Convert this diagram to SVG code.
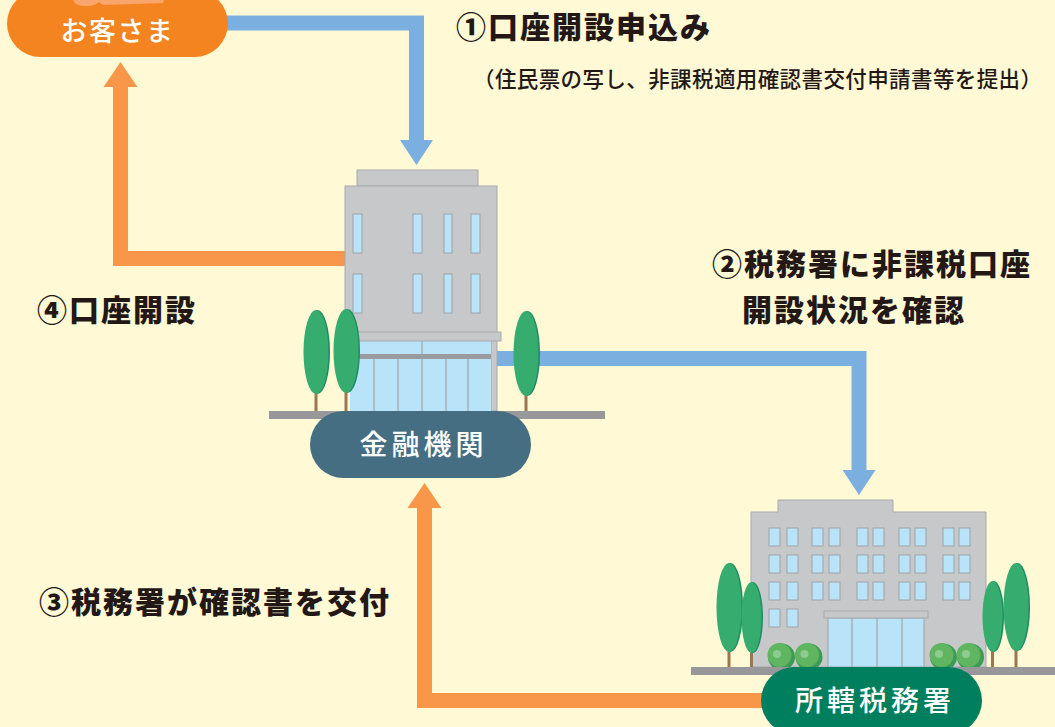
<svg xmlns="http://www.w3.org/2000/svg" width="1055" height="727" viewBox="0 0 1055 727">
  <style>
    .bg { fill: #FFF9D6; }
    .link-blue { fill: none; stroke: #7BAFDF; stroke-width: 15; }
    .link-orange { fill: none; stroke: #F8964A; stroke-width: 15; }
    .label { font-family: "Noto Sans CJK JP", "Noto Sans", sans-serif; font-weight: 900; font-size: 30px; letter-spacing: 2px; fill: #231815; }
    .note { font-family: "Noto Sans CJK JP", "Noto Sans", sans-serif; font-weight: 500; font-size: 21.5px; letter-spacing: 0.4px; fill: #231815; }
    .pill-text { font-family: "Noto Sans CJK JP", "Noto Sans", sans-serif; font-weight: 500; fill: #FFFFFF; text-anchor: middle; }
    .wall { fill: #C7C8CA; stroke: #A7A9AC; stroke-width: 1; }
    .win { fill: #B8E3F8; stroke: #9EA3A8; stroke-width: 1; }
    .glass { fill: #B8E3F8; }
    .mullion { stroke: #9EA3A8; stroke-width: 1.2; }
    .ground { fill: #98989B; }
    .trunk { stroke: #9C7551; stroke-width: 3; }
    .leaf-dark { fill: #1E8C64; }
    .leaf { fill: #37AC6F; }
    .bush-dark { fill: #3C9B54; }
    .bush { fill: #5FB560; }
    .bush-hi { fill: #8FCB8F; }
  </style>
  <defs>
    <marker id="head-blue" markerUnits="userSpaceOnUse" markerWidth="25" markerHeight="33" refX="0" refY="16.5" orient="auto">
      <path d="M0,0 L25,16.5 L0,33 Z" fill="#7BAFDF"/>
    </marker>
    <marker id="head-orange" markerUnits="userSpaceOnUse" markerWidth="25" markerHeight="34" refX="0" refY="17" orient="auto">
      <path d="M0,0 L25,17 L0,34 Z" fill="#F8964A"/>
    </marker>
  </defs>

  <rect class="bg" x="0" y="0" width="1055" height="727"/>

  <!-- flow arrows -->
  <g id="connectors">
    <path id="link-apply" class="link-blue" d="M225,23 H416.5 V140" marker-end="url(#head-blue)"/>
    <path id="link-inquiry" class="link-blue" d="M495,358.5 H859 V470" marker-end="url(#head-blue)"/>
    <path id="link-certificate" class="link-orange" d="M770,700.5 H424.5 V508" marker-end="url(#head-orange)"/>
    <path id="link-open" class="link-orange" d="M348,258.5 H120.5 V87" marker-end="url(#head-orange)"/>
  </g>

  <!-- step captions -->
  <g id="labels">
    <text class="label" x="456" y="38">①口座開設申込み</text>
    <text class="note" x="473" y="87">（住民票の写し、非課税適用確認書交付申請書等を提出）</text>
    <text class="label" x="712" y="275">②税務署に非課税口座</text>
    <text class="label" x="742" y="321">開設状況を確認</text>
    <text class="label" x="37" y="321">④口座開設</text>
    <text class="label" x="39" y="613">③税務署が確認書を交付</text>
  </g>

  <!-- customer -->
  <g id="customer">
    <rect x="7" y="-10" width="221" height="67" rx="33.5" fill="#F4841F"/>
    <path d="M73,0 Q75,6 86,6 Q95,6 99,2 L103,5 L163,3 L164,0 Z" fill="#F9A66C"/>
    <text class="pill-text" x="117.5" y="41" font-size="27" letter-spacing="1.5">お客さま</text>
  </g>

  <!-- financial institution -->
  <g id="bank">
    <rect class="wall" x="357" y="170" width="121" height="16"/>
    <rect class="wall" x="345" y="186" width="152" height="147"/>
    <g class="win">
      <rect x="353" y="214" width="9" height="39"/>
      <rect x="413" y="214" width="9" height="39"/>
      <rect x="444" y="214" width="8" height="39"/>
      <rect x="471" y="214" width="9" height="39"/>
      <rect x="353" y="274" width="9" height="39"/>
      <rect x="413" y="274" width="9" height="39"/>
      <rect x="444" y="274" width="8" height="39"/>
      <rect x="471" y="274" width="9" height="39"/>
    </g>
    <rect class="wall" x="491" y="333" width="6" height="78"/>
    <rect class="glass" x="350" y="341" width="141" height="70"/>
    <rect x="350" y="354" width="141" height="5" fill="#9A9B9F"/>
    <g class="mullion">
      <line x1="422" y1="341" x2="422" y2="411"/>
      <line x1="374" y1="359" x2="374" y2="411"/>
      <line x1="398" y1="359" x2="398" y2="411"/>
      <line x1="446" y1="359" x2="446" y2="411"/>
      <line x1="468" y1="359" x2="468" y2="411"/>
    </g>
    <rect class="wall" x="350" y="332" width="151" height="9"/>
    <line class="trunk" x1="316" y1="390" x2="316" y2="411"/>
    <line class="trunk" x1="346" y1="390" x2="346" y2="411"/>
    <line class="trunk" x1="526" y1="392" x2="526" y2="411"/>
    <ellipse class="leaf-dark" cx="317.5" cy="352" rx="12.5" ry="42"/>
    <ellipse class="leaf" cx="316" cy="352" rx="12.5" ry="42"/>
    <ellipse class="leaf-dark" cx="347.5" cy="351" rx="12.5" ry="42"/>
    <ellipse class="leaf" cx="346" cy="351" rx="12.5" ry="42"/>
    <ellipse class="leaf-dark" cx="527.5" cy="353.5" rx="12.5" ry="42.5"/>
    <ellipse class="leaf" cx="526" cy="353.5" rx="12.5" ry="42.5"/>
    <rect class="ground" x="269" y="411" width="336" height="8"/>
    <rect x="310" y="411" width="221" height="67" rx="33.5" fill="#466E82"/>
    <text class="pill-text" x="423.5" y="455" font-size="28" letter-spacing="4">金融機関</text>
  </g>

  <!-- district tax office -->
  <g id="tax-office">
    <path class="wall" d="M751,667 V512 H778 V500 H893 V512 H986 V667 Z"/>
    <g class="win">
      <rect x="769" y="528" width="11" height="18"/><rect x="787" y="528" width="11" height="18"/>
      <rect x="812" y="528" width="11" height="18"/><rect x="829" y="528" width="11" height="18"/>
      <rect x="857" y="528" width="11" height="18"/><rect x="873" y="528" width="11" height="18"/>
      <rect x="899" y="528" width="11" height="18"/><rect x="915" y="528" width="11" height="18"/>
      <rect x="943" y="528" width="11" height="18"/><rect x="959" y="528" width="11" height="18"/>
      <rect x="769" y="555" width="11" height="18"/><rect x="787" y="555" width="11" height="18"/>
      <rect x="812" y="555" width="11" height="18"/><rect x="829" y="555" width="11" height="18"/>
      <rect x="857" y="555" width="11" height="18"/><rect x="873" y="555" width="11" height="18"/>
      <rect x="899" y="555" width="11" height="18"/><rect x="915" y="555" width="11" height="18"/>
      <rect x="943" y="555" width="11" height="18"/><rect x="959" y="555" width="11" height="18"/>
      <rect x="769" y="582" width="11" height="18"/><rect x="787" y="582" width="11" height="18"/>
      <rect x="812" y="582" width="11" height="18"/><rect x="829" y="582" width="11" height="18"/>
      <rect x="857" y="582" width="11" height="18"/><rect x="873" y="582" width="11" height="18"/>
      <rect x="899" y="582" width="11" height="18"/><rect x="915" y="582" width="11" height="18"/>
      <rect x="943" y="582" width="11" height="18"/><rect x="959" y="582" width="11" height="18"/>
      <rect x="769" y="609" width="11" height="18"/><rect x="787" y="609" width="11" height="18"/>
    </g>
    <rect class="glass" x="828" y="618" width="96" height="49" stroke="#9EA3A8" stroke-width="1"/>
    <g class="mullion">
      <line x1="852" y1="618" x2="852" y2="667"/>
      <line x1="877" y1="618" x2="877" y2="667"/>
      <line x1="902" y1="618" x2="902" y2="667"/>
    </g>
    <rect class="wall" x="824" y="611" width="104" height="7"/>
    <line class="trunk" x1="729" y1="648" x2="729" y2="667"/>
    <line class="trunk" x1="751.5" y1="650" x2="751.5" y2="667"/>
    <line class="trunk" x1="992.5" y1="650" x2="992.5" y2="667"/>
    <line class="trunk" x1="1016" y1="648" x2="1016" y2="667"/>
    <ellipse class="leaf-dark" cx="730.5" cy="607.5" rx="12.5" ry="44.5"/>
    <ellipse class="leaf" cx="729" cy="607.5" rx="12.5" ry="44.5"/>
    <ellipse class="leaf-dark" cx="753" cy="617.5" rx="10" ry="35.5"/>
    <ellipse class="leaf" cx="751.5" cy="617.5" rx="10" ry="35.5"/>
    <ellipse class="leaf-dark" cx="1017.5" cy="607" rx="12.5" ry="44"/>
    <ellipse class="leaf" cx="1016" cy="607" rx="12.5" ry="44"/>
    <ellipse class="leaf-dark" cx="994" cy="616.5" rx="10" ry="35.5"/>
    <ellipse class="leaf" cx="992.5" cy="616.5" rx="10" ry="35.5"/>
    <g id="bushes">
      <circle class="bush-dark" cx="781.5" cy="657" r="13.5"/>
      <circle class="bush" cx="779.5" cy="655" r="12"/>
      <circle class="bush-hi" cx="777" cy="654" r="4"/>
      <circle class="bush-dark" cx="809" cy="657" r="13.5"/>
      <circle class="bush" cx="807" cy="655" r="12"/>
      <circle class="bush-hi" cx="804.5" cy="654" r="4"/>
      <circle class="bush-dark" cx="943.5" cy="657" r="13.5"/>
      <circle class="bush" cx="941.5" cy="655" r="12"/>
      <circle class="bush-hi" cx="939" cy="654" r="4"/>
      <circle class="bush-dark" cx="970.5" cy="657" r="13.5"/>
      <circle class="bush" cx="968.5" cy="655" r="12"/>
      <circle class="bush-hi" cx="966" cy="654" r="4"/>
    </g>
    <rect class="ground" x="691" y="667" width="364" height="8"/>
    <rect x="761" y="667" width="221" height="67" rx="33.5" fill="#007F5E"/>
    <text class="pill-text" x="875" y="711" font-size="28" letter-spacing="4">所轄税務署</text>
  </g>
</svg>
